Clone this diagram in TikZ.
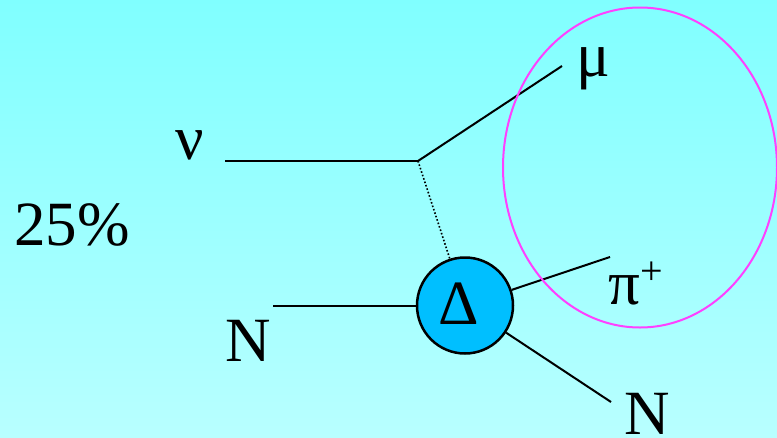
\documentclass[tikz,border=0pt]{standalone}
\usepackage{fontspec}
\setmainfont{Liberation Serif}
\usetikzlibrary{shapes.geometric}
\begin{document}
\begin{tikzpicture}[x=1pt,y=-1pt,
  lbl/.style={inner sep=0pt,anchor=base west,font=\fontsize{63}{70}\selectfont},
  prop/.style={line width=2pt,black},
  blob/.style={circle,draw=black,line width=2.5pt,fill={rgb,255:red,0;green,191;blue,255},minimum size=96pt,inner sep=0pt,font=\fontsize{63}{70}\selectfont}]
\useasboundingbox (0,0) rectangle (777,437);
\shade[top color={rgb,255:red,128;green,255;blue,255},bottom color={rgb,255:red,184;green,255;blue,255}] (0,0) rectangle (777,437);
% labels
\node[lbl] (pct) at (14,245) {25\%};
\node[lbl] (nu) at (175,159) {ν};
\node[lbl] (mu) at (576,76) {μ};
\node[lbl] (nl) at (225,361) {N};
\node[lbl] (nr) at (624,434) {N};
\node[lbl] (pi) at (608,304) {π\raisebox{20pt}{\fontsize{40}{40}\selectfont +}};
% coordinates
\coordinate (v) at (418,161);
\coordinate (nustart) at (225,161);
\coordinate (muend) at (562,66);
\coordinate (nlstart) at (273,305.5);
\coordinate (piend) at (610,257);
\coordinate (nrend) at (611,402);
% Delta blob
\node[blob] (delta) at (465,305.5) {\raisebox{3pt}{\hspace*{-12pt}Δ}};
% lines
\draw[prop] (nustart) -- (v);
\draw[prop] (v) -- (muend);
\draw[line width=1.6pt,dotted] (v) -- (delta);
\draw[prop] (nlstart) -- (delta);
\draw[prop] (delta) -- (piend);
\draw[prop] (delta) -- (nrend);
% ellipse
\node[ellipse,draw={rgb,255:red,255;green,64;blue,255},line width=2pt,minimum width=274pt,minimum height=320pt,inner sep=0pt] (ring) at (640,167.5) {};
\end{tikzpicture}
\end{document}
